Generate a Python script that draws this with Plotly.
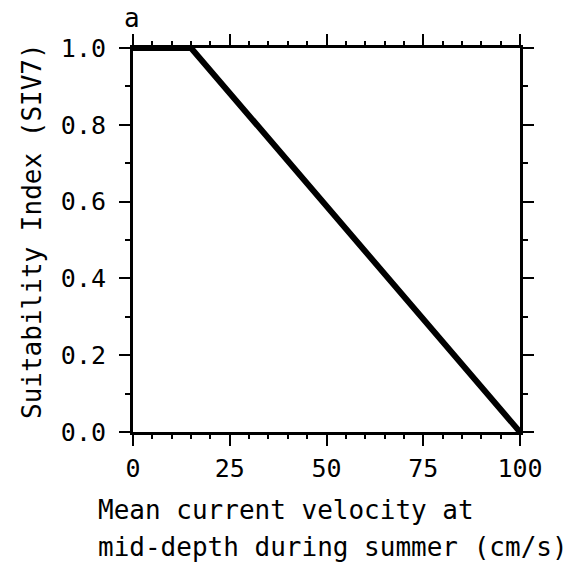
import plotly.graph_objects as go

# Data
velocity = [0, 15, 100]          # cm/s
suitability = [1.0, 1.0, 0.0]    # SIV7
x_ticks = [0, 25, 50, 75, 100]
y_ticks = [0.0, 0.2, 0.4, 0.6, 0.8, 1.0]
y_tick_labels = ["0.0", "0.2", "0.4", "0.6", "0.8", "1.0"]
x_title_lines = ["Mean current velocity at", "mid-depth during summer (cm/s)"]
y_title = "Suitability Index (SIV7)"
panel_label = "a"

FONT = "DejaVu Sans Mono"
W, H = 575, 566
L, R, T, B = 133, 55, 48, 134

fig = go.Figure()
fig.add_trace(go.Scatter(x=velocity, y=suitability, mode="lines",
                         line=dict(color="black", width=6), showlegend=False,
                         hoverinfo="skip"))

axis_common = dict(showgrid=False, zeroline=False, showline=True, linecolor="black",
                   linewidth=3, mirror="allticks", ticks="outside", ticklen=11,
                   tickwidth=2, tickcolor="black",
                   tickfont=dict(family=FONT, size=25, color="black"))

fig.update_xaxes(range=[0, 100], tickvals=x_ticks, ticktext=[str(v) for v in x_ticks],
                 minor=dict(dtick=5, ticklen=4, tickwidth=2, tickcolor="black", ticks="outside"),
                 ticklabelstandoff=1, **axis_common)
fig.update_yaxes(range=[0, 1], tickvals=y_ticks, ticktext=y_tick_labels,
                 minor=dict(dtick=0.1, ticklen=5, tickwidth=2, tickcolor="black", ticks="outside"),
                 ticklabelstandoff=8, **axis_common)

ann_font = dict(family=FONT, size=26, color="black")
pw = W - L - R
ph = H - T - B
def px_x(p):
    return (p - L) / pw
def px_y(p):
    return 1 - (p - T) / ph

annotations = [
    dict(text=x_title_lines[0], x=px_x(96), y=px_y(510), xanchor="left", yanchor="middle"),
    dict(text=x_title_lines[1], x=px_x(96), y=px_y(547), xanchor="left", yanchor="middle"),
    dict(text=y_title, x=px_x(32), y=px_y(231), xanchor="center", yanchor="middle", textangle=-90),
    dict(text=panel_label, x=px_x(132), y=px_y(18), xanchor="center", yanchor="middle"),
]
for a in annotations:
    a.update(xref="paper", yref="paper", showarrow=False, font=ann_font)

fig.update_layout(width=W, height=H, margin=dict(l=L, r=R, t=T, b=B),
                  paper_bgcolor="white", plot_bgcolor="white",
                  annotations=annotations)

fig.write_html("out.html")
